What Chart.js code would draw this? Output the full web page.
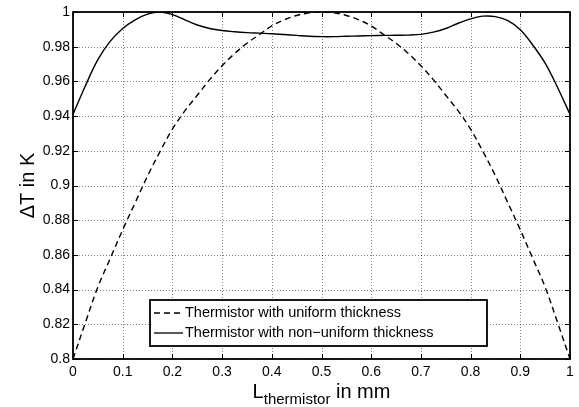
<!DOCTYPE html>
<html>
<head>
<meta charset="utf-8">
<script src="https://cdn.jsdelivr.net/npm/chart.js@4.4.1/dist/chart.umd.min.js"></script>
<style>
  body { margin: 0; background: #fff; }
  canvas { display: block; }
</style>
</head>
<body>
<canvas id="chartOne" width="579" height="407"></canvas>
<script>
// position along the thermistor in mm
let xValues = [0, 0.025, 0.05, 0.075, 0.1, 0.125, 0.15, 0.175, 0.2, 0.225,
    0.25, 0.275, 0.3, 0.325, 0.35, 0.375, 0.4, 0.425, 0.45, 0.475,
    0.5, 0.525, 0.55, 0.575, 0.6, 0.625, 0.65, 0.675, 0.7, 0.725,
    0.75, 0.775, 0.8, 0.825, 0.85, 0.875, 0.9, 0.925, 0.95, 0.975, 1];

// dashed curve
let uniformValues = [0.800, 0.821, 0.8415, 0.858, 0.8745, 0.890, 0.9055, 0.9195, 0.9325, 0.943,
    0.952, 0.961, 0.969, 0.976, 0.982, 0.987, 0.992, 0.9955, 0.998, 0.9995,
    1.000, 0.9995, 0.998, 0.9955, 0.992, 0.987, 0.982, 0.976, 0.969, 0.961,
    0.952, 0.943, 0.9325, 0.9195, 0.9055, 0.890, 0.8745, 0.858, 0.8415, 0.821, 0.800];

// solid curve
let nonUniformValues = [0.941, 0.9575, 0.9725, 0.9832, 0.9905, 0.9955, 0.9988, 0.9999, 0.9985, 0.9955,
    0.9925, 0.9905, 0.9893, 0.9886, 0.9881, 0.9878, 0.9875, 0.9870, 0.9865, 0.9860,
    0.9858, 0.9858, 0.9860, 0.9862, 0.9864, 0.9865, 0.9866, 0.9867, 0.9871, 0.9884,
    0.9905, 0.9935, 0.9960, 0.9976, 0.9973, 0.9950, 0.9898, 0.9810, 0.9705, 0.9565, 0.941];

let seriesNames = ['Thermistor with uniform thickness', 'Thermistor with non\u2212uniform thickness'];

let fontName = "'Liberation Sans', Arial, Helvetica, sans-serif";
Chart.defaults.font.family = fontName;
Chart.defaults.color = '#000';

function toPoints(ys) {
    return xValues.map(function (x, i) { return { x: x, y: ys[i] }; });
}

function niceLabel(v) {
    return String(parseFloat(Number(v).toFixed(3)));
}

// box, dotted grid, inward ticks, axis titles and legend drawn matlab style
var matlabLook = {
    id: 'matlabLook',
    beforeDatasetsDraw: function (chart) {
        var c = chart.ctx;
        var a = chart.chartArea;
        var xs = chart.scales.x, ys = chart.scales.y;
        c.save();
        c.strokeStyle = 'rgba(0,0,0,0.5)';
        c.lineWidth = 1;
        c.setLineDash([1, 2]);
        c.beginPath();
        xs.ticks.forEach(function (t) {
            var px = Math.round(xs.getPixelForValue(t.value)) + 0.5;
            c.moveTo(px, a.top); c.lineTo(px, a.bottom);
        });
        ys.ticks.forEach(function (t) {
            var py = Math.round(ys.getPixelForValue(t.value)) + 0.5;
            c.moveTo(a.left, py); c.lineTo(a.right, py);
        });
        c.stroke();
        c.restore();
    },
    afterDraw: function (chart) {
        var c = chart.ctx;
        var a = chart.chartArea;
        var xs = chart.scales.x, ys = chart.scales.y;
        c.save();
        c.strokeStyle = '#000';
        c.lineWidth = 1;
        c.setLineDash([]);
        c.beginPath();
        xs.ticks.forEach(function (t) {
            var px = Math.round(xs.getPixelForValue(t.value)) + 0.5;
            c.moveTo(px, a.bottom); c.lineTo(px, a.bottom - 5);
            c.moveTo(px, a.top); c.lineTo(px, a.top + 5);
        });
        ys.ticks.forEach(function (t) {
            var py = Math.round(ys.getPixelForValue(t.value)) + 0.5;
            c.moveTo(a.left, py); c.lineTo(a.left + 5, py);
            c.moveTo(a.right, py); c.lineTo(a.right - 5, py);
        });
        c.stroke();

        c.lineWidth = 1.8;
        c.strokeRect(a.left, a.top, a.right - a.left, a.bottom - a.top);

        // legend
        var lx = 150, ly = 300, lw = 337, lh = 46;
        c.fillStyle = '#fff';
        c.fillRect(lx, ly, lw, lh);
        c.lineWidth = 1.8;
        c.strokeRect(lx, ly, lw, lh);
        c.font = '14.5px ' + fontName;
        c.textBaseline = 'middle';
        c.textAlign = 'left';
        chart.data.datasets.forEach(function (ds, i) {
            var yy = ly + 13 + i * 20;
            c.lineWidth = 1.3;
            c.setLineDash(ds.borderDash || []);
            c.beginPath();
            c.moveTo(lx + 4, yy); c.lineTo(lx + 33, yy);
            c.stroke();
            c.setLineDash([]);
            c.fillStyle = '#000';
            c.fillText(ds.label, lx + 35, yy);
        });

        // x title with subscript
        c.fillStyle = '#000';
        c.textBaseline = 'alphabetic';
        var big = '20px ' + fontName, small = '15px ' + fontName;
        c.font = big; var wL = c.measureText('L').width; var wR = c.measureText(' in mm').width;
        c.font = small; var wS = c.measureText('thermistor').width;
        var x0 = (a.left + a.right) / 2 - (wL + wS + wR) / 2;
        c.font = big; c.fillText('L', x0, 398);
        c.font = small; c.fillText('thermistor', x0 + wL, 404);
        c.font = big; c.fillText(' in mm', x0 + wL + wS, 398);

        // y title
        c.translate(34, (a.top + a.bottom) / 2);
        c.rotate(-Math.PI / 2);
        c.textAlign = 'center';
        c.font = big;
        c.fillText('\u0394T in K', 0, 0);
        c.restore();
    }
};

var ctx = document.getElementById('chartOne').getContext('2d');
var chartOne = new Chart(ctx, {
    type: 'line',
    data: {
        datasets: [{
            label: seriesNames[0],
            data: toPoints(uniformValues),
            borderColor: '#000',
            borderWidth: 1.4,
            borderDash: [6, 4],
            pointRadius: 0,
            fill: false,
            tension: 0.35
        }, {
            label: seriesNames[1],
            data: toPoints(nonUniformValues),
            borderColor: '#000',
            borderWidth: 1.4,
            pointRadius: 0,
            fill: false,
            tension: 0.35
        }]
    },
    options: {
        responsive: false,
        animation: false,
        devicePixelRatio: 1,
        layout: { padding: { top: 12, right: 9, left: 0, bottom: 0 } },
        plugins: {
            legend: { display: false },
            tooltip: { enabled: false }
        },
        scales: {
            x: {
                type: 'linear',
                min: 0,
                max: 1,
                border: { display: false },
                grid: { display: false, drawTicks: false },
                ticks: {
                    stepSize: 0.1,
                    padding: 5,
                    maxRotation: 0,
                    font: { size: 14 },
                    callback: function (v) { return niceLabel(v); }
                },
                afterFit: function (scale) { scale.height = 48; }
            },
            y: {
                min: 0.8,
                max: 1,
                border: { display: false },
                grid: { display: false, drawTicks: false },
                ticks: {
                    stepSize: 0.02,
                    padding: 3,
                    font: { size: 14 },
                    callback: function (v) { return niceLabel(v); }
                },
                afterFit: function (scale) { scale.width = 73; }
            }
        }
    },
    plugins: [matlabLook]
});
</script>
</body>
</html>
